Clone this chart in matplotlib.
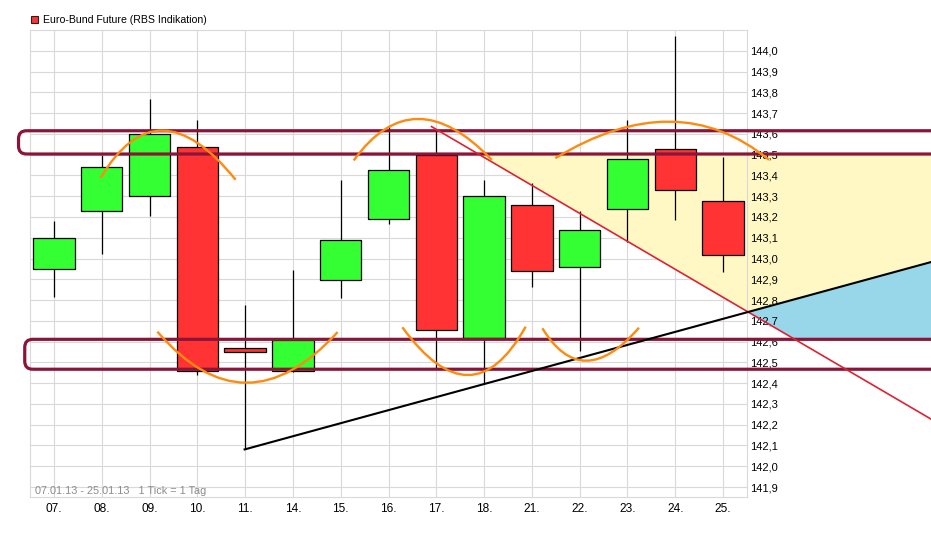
import matplotlib
matplotlib.use('Agg')
import matplotlib.pyplot as plt
from matplotlib.patches import Rectangle, FancyBboxPatch, Polygon, PathPatch
from matplotlib.path import Path
import numpy as np

# ---------------- data ----------------
days = ['07.', '08.', '09.', '10.', '11.', '14.', '15.', '16.', '17.', '18.',
        '21.', '22.', '23.', '24.', '25.']
opens  = [142.948, 143.228, 143.300, 143.536, 142.568, 142.460, 142.897, 143.189,
          143.499, 142.616, 143.257, 142.958, 143.237, 143.526, 143.276]
highs  = [143.181, 143.499, 143.769, 143.668, 142.777, 142.945, 143.379, 143.639,
          143.615, 143.379, 143.364, 143.229, 143.668, 144.069, 143.491]
lows   = [142.816, 143.022, 143.207, 142.439, 142.081, 142.455, 142.810, 143.167,
          142.470, 142.396, 142.865, 142.556, 143.081, 143.187, 142.937]
closes = [143.098, 143.440, 143.600, 142.459, 142.549, 142.608, 143.088, 143.425,
          142.656, 143.300, 142.939, 143.136, 143.478, 143.329, 143.016]

ytick_values = [round(141.9 + 0.1 * i, 1) for i in range(22)]
ytick_labels = [f"{v:.1f}".replace('.', ',') for v in ytick_values]

legend_label = "Euro-Bund Future (RBS Indikation)"
info_label = "07.01.13 - 25.01.13   1 Tick = 1 Tag"

# drawn annotations
band_upper = (143.503, 143.615)
band_lower = (142.467, 142.611)
band_left = (-0.74, -0.61)
support_line = [(3.99, 142.081), (18.35, 142.983)]
resist_line = [(7.90, 143.635), (18.35, 142.227)]
# arcs: (start, apex, end)
arcs = [
    ((0.977, 143.388), (2.275, 143.616), (3.802, 143.379)),
    ((2.164, 142.648), (4.026, 142.402), (5.936, 142.646)),
    ((6.271, 143.472), (7.617, 143.672), (9.159, 143.475)),
    ((7.290, 142.669), (8.663, 142.439), (9.870, 142.672)),
    ((10.22, 142.664), (11.14, 142.508), (12.24, 142.667)),
    ((10.49, 143.483), (12.88, 143.659), (14.96, 143.475)),
]

# ---------------- figure ----------------
W, H, DPI = 931, 539, 100
fig = plt.figure(figsize=(W / DPI, H / DPI), dpi=DPI)
fig.patch.set_facecolor('white')
L, R, B, T = 30, 747, 497, 30
ax = fig.add_axes([L / W, (H - B) / H, (R - L) / W, (B - T) / H])
ax.set_xlim(-0.5, len(days) - 0.5)
ax.set_ylim(141.852, 144.1)
ax.set_axisbelow(False)

grid_c = '#d9d9d9'
for s in ax.spines.values():
    s.set_color(grid_c)
    s.set_linewidth(0.8)

# manual grid
for v in ytick_values:
    ax.axhline(v, color=grid_c, lw=0.8, zorder=0.1)
for i in range(len(days)):
    ax.axvline(i, color=grid_c, lw=0.8, zorder=0.1)

ax.set_xticks(range(len(days)))
ax.set_xticklabels(days, fontsize=8.6, family=['Liberation Sans', 'DejaVu Sans'])
ax.yaxis.tick_right()
ax.set_yticks(ytick_values)
ax.set_yticklabels(ytick_labels, fontsize=8, family=['Liberation Sans', 'DejaVu Sans'])
ax.tick_params(axis='x', length=0, pad=4)
ax.tick_params(axis='y', length=0, pad=2.5)

# geometry helpers
fig.canvas.draw()
x_right = ax.transData.inverted().transform((W, 0))[0]
p0 = ax.transData.transform((0, 0))
p1 = ax.transData.transform((1, 1))
px_x = p1[0] - p0[0]
px_y = p1[1] - p0[1]


def line_y(line, x):
    (x0, y0), (x1, y1) = line
    return y0 + (y1 - y0) * (x - x0) / (x1 - x0)


def line_x(line, y):
    (x0, y0), (x1, y1) = line
    return x0 + (x1 - x0) * (y - y0) / (y1 - y0)


def slope(line):
    (x0, y0), (x1, y1) = line
    return (y1 - y0) / (x1 - x0)


ms, mr = slope(support_line), slope(resist_line)
bs = support_line[0][1] - ms * support_line[0][0]
br = resist_line[0][1] - mr * resist_line[0][0]
xi = (br - bs) / (ms - mr)
yi = ms * xi + bs

# fills
yellow = [(line_x(resist_line, band_upper[0]), band_upper[0]),
          (x_right, band_upper[0]),
          (x_right, line_y(support_line, x_right)),
          (xi, yi)]
blue = [(xi, yi),
        (x_right, line_y(support_line, x_right)),
        (x_right, band_lower[1]),
        (line_x(resist_line, band_lower[1]), band_lower[1])]
ax.add_patch(Polygon(yellow, closed=True, fc='#fff7c4', ec='none', zorder=0.3, clip_on=False))
ax.add_patch(Polygon(blue, closed=True, fc='#98d6e9', ec='none', zorder=0.3, clip_on=False))

# candles
bw = 0.87
for i in range(len(days)):
    o, h, l, c = opens[i], highs[i], lows[i], closes[i]
    col = '#33ff33' if c >= o else '#ff3333'
    ax.plot([i, i], [l, h], color='black', lw=0.9, zorder=2.8, solid_capstyle='butt')
    ax.add_patch(Rectangle((i - bw / 2, min(o, c)), bw, abs(c - o), fc=col,
                           ec='black', lw=0.9, zorder=3))

# bands
aspect = px_x / px_y
r = 8 / px_x
for (b0, b1), xl in zip([band_upper, band_lower], band_left):
    ax.add_patch(FancyBboxPatch((xl, b0), x_right + 2 - xl, b1 - b0,
                                boxstyle=f"round,pad=0,rounding_size={r}",
                                mutation_aspect=aspect, fill=False,
                                ec='#8b1538', lw=2.3, zorder=4, clip_on=False))

# trend lines
ax.plot([p[0] for p in resist_line], [p[1] for p in resist_line], color='#dd2233',
        lw=1.2, zorder=4.5, clip_on=False)
ax.plot([p[0] for p in support_line], [p[1] for p in support_line], color='black',
        lw=1.5, zorder=5, clip_on=False)

# arcs (quadratic bezier through apex at t=0.5)
for P0, M, P2 in arcs:
    P0, M, P2 = np.array(P0), np.array(M), np.array(P2)
    P1 = 2 * M - (P0 + P2) / 2
    path = Path([P0, P1, P2], [Path.MOVETO, Path.CURVE3, Path.CURVE3])
    ax.add_patch(PathPatch(path, fill=False, ec='#ff8a10', lw=1.7, zorder=6,
                           clip_on=False, capstyle='butt'))

# legend
fig.patches.append(Rectangle((31 / W, 1 - 23 / H), 7 / W, 7 / H, transform=fig.transFigure,
                             fc='#ff3333', ec='#222222', lw=0.8))
fig.text(43 / W, 1 - 20 / H, legend_label, fontsize=7.6, va='center', ha='left',
         family=['Liberation Sans', 'DejaVu Sans'], color='black')

# info text inside plot
fig.text(35 / W, 1 - 491 / H, info_label, fontsize=7.8, va='center', ha='left',
         family=['Liberation Sans', 'DejaVu Sans'], color='#8c8c8c')

fig.savefig('out.png', dpi=DPI)
